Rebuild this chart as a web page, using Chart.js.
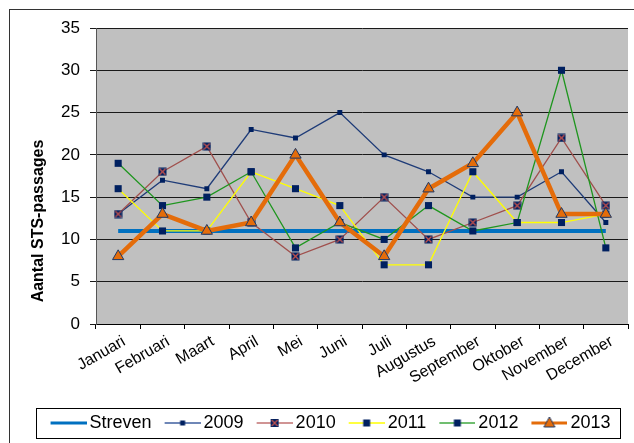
<!DOCTYPE html>
<html>
<head>
<meta charset="utf-8">
<script src="https://cdn.jsdelivr.net/npm/chart.js@4.4.1/dist/chart.umd.min.js"></script>
<style>
  html, body { margin: 0; padding: 0; background: #fff; overflow: hidden; }
  #wrap { position: relative; width: 634px; height: 443px; overflow: hidden; }
  #wrap canvas { position: absolute; left: 0; top: 0; }
</style>
</head>
<body>
<div id="wrap"><canvas id="chart" width="655" height="443"></canvas></div>
<script>
const months = ["Januari", "Februari", "Maart", "April", "Mei", "Juni", "Juli",
  "Augustus", "September", "Oktober", "November", "December"];
const streven = [11, 11, 11, 11, 11, 11, 11, 11, 11, 11, 11, 11];
const y2009 = [13, 17, 16, 23, 22, 25, 20, 18, 15, 15, 18, 12];
const y2010 = [13, 18, 21, 12, 8, 10, 15, 10, 12, 14, 22, 14];
const y2011 = [16, 11, 11, 18, 16, 14, 7, 7, 18, 12, 12, 13];
const y2012 = [19, 14, 15, 18, 9, 12, 10, 14, 11, 12, 30, 9];
const y2013 = [8, 13, 11, 12, 20, 12, 8, 16, 19, 25, 13, 13];
const yTitle = "Aantal STS-passages";

const NAVY = "#002060";
const FONT = "'Liberation Sans', Arial, sans-serif";
Chart.defaults.font.family = FONT;

// little marker helpers, used for the plot and the legend icons
function square(g, x, y, s) {
  g.fillStyle = NAVY;
  g.fillRect(x - s / 2, y - s / 2, s, s);
}
function crossBox(g, x, y) {
  g.fillStyle = NAVY;
  g.fillRect(x - 4, y - 4, 8, 8);
  g.strokeStyle = "#c0504d";
  g.lineWidth = 1.4;
  g.beginPath();
  g.moveTo(x - 3, y - 3); g.lineTo(x + 3, y + 3);
  g.moveTo(x + 3, y - 3); g.lineTo(x - 3, y + 3);
  g.stroke();
}
function tri(g, x, y) {
  g.fillStyle = "#e46c0a";
  g.strokeStyle = "#1f3864";
  g.lineWidth = 1;
  g.beginPath();
  g.moveTo(x, y - 6); g.lineTo(x + 5.5, y + 4); g.lineTo(x - 5.5, y + 4);
  g.closePath();
  g.fill(); g.stroke();
}

const crossImg = document.createElement("canvas");
crossImg.width = 9; crossImg.height = 9;
crossBox(crossImg.getContext("2d"), 4.5, 4.5);

function legendIcon(color, width, marker) {
  const c = document.createElement("canvas");
  c.width = 48; c.height = 16;
  const g = c.getContext("2d");
  g.strokeStyle = color;
  g.lineWidth = width;
  g.beginPath(); g.moveTo(12, 8); g.lineTo(48, 8); g.stroke();
  if (marker) marker(g, 30, 8);
  return c;
}

const datasets = [
  { label: "Streven", data: streven, borderColor: "#0070c0", borderWidth: 4,
    pointRadius: 0, order: 6,
    icon: legendIcon("#0070c0", 3, null) },
  { label: "2009", data: y2009, borderColor: "#1f3c78", borderWidth: 1.3,
    pointStyle: "rect", pointRadius: 3.5, pointBackgroundColor: NAVY, pointBorderColor: NAVY, pointBorderWidth: 0, order: 5,
    icon: legendIcon("#3f5f9f", 1.3, (g, x, y) => square(g, x, y, 5)) },
  { label: "2010", data: y2010, borderColor: "#a0504d", borderWidth: 1.3,
    pointStyle: crossImg, order: 4,
    icon: legendIcon("#c07070", 1.3, crossBox) },
  { label: "2011", data: y2011, borderColor: "#ffff00", borderWidth: 1.3,
    pointStyle: "rect", pointRadius: 5, pointBackgroundColor: NAVY, pointBorderColor: NAVY, pointBorderWidth: 0, order: 3,
    icon: legendIcon("#ffff00", 1.5, (g, x, y) => square(g, x, y, 7)) },
  { label: "2012", data: y2012, borderColor: "#1e961e", borderWidth: 1.3,
    pointStyle: "rect", pointRadius: 5, pointBackgroundColor: NAVY, pointBorderColor: NAVY, pointBorderWidth: 0, order: 2,
    icon: legendIcon("#40a840", 1.5, (g, x, y) => square(g, x, y, 7)) },
  { label: "2013", data: y2013, borderColor: "#e46c0a", borderWidth: 4.5,
    pointStyle: "triangle", pointRadius: 6.5, pointBackgroundColor: "#e46c0a", pointBorderColor: "#1f3864", pointBorderWidth: 1, order: 1,
    icon: legendIcon("#e46c0a", 3, tri) }
];
datasets.forEach(d => { d.tension = 0; d.fill = false; d.pointHoverRadius = d.pointRadius; });

const frame = {
  id: "frame",
  beforeDraw(chart) {
    const { ctx, chartArea: a } = chart;
    ctx.save();
    ctx.strokeStyle = "#333";
    ctx.lineWidth = 1;
    ctx.strokeRect(9.5, 9.5, 800, 600);
    ctx.fillStyle = "#c0c0c0";
    ctx.fillRect(a.left, a.top, a.right - a.left, a.bottom - a.top);
    ctx.restore();
  },
  afterDraw(chart) {
    const ctx = chart.ctx;
    const boxes = chart.legend.legendHitBoxes;
    ctx.save();
    if (boxes && boxes.length) {
      const first = boxes[0], last = boxes[boxes.length - 1];
      const mid = first.top + 9;
      ctx.strokeStyle = "#000";
      ctx.lineWidth = 1;
      ctx.strokeRect(Math.round(first.left - 9) + 0.5, Math.round(mid - 15) + 0.5,
        Math.round(last.left + last.width - first.left + 18), 30);
    }
    ctx.translate(39, 221);
    ctx.rotate(-Math.PI / 2);
    ctx.font = "bold 16px " + FONT;
    ctx.fillStyle = "#000";
    ctx.textAlign = "center";
    ctx.textBaseline = "middle";
    ctx.fillText(yTitle, 0, 0);
    ctx.restore();
  }
};

new Chart(document.getElementById("chart").getContext("2d"), {
  type: "line",
  data: { labels: months, datasets: datasets },
  options: {
    responsive: false,
    animation: false,
    devicePixelRatio: 1,
    layout: { padding: { left: 27, right: 27, top: 28, bottom: 1 } },
    plugins: {
      legend: {
        position: "bottom",
        labels: {
          usePointStyle: true,
          pointStyleWidth: 36,
          padding: 7,
          color: "#000",
          font: { size: 18 },
          generateLabels: (chart) => chart.data.datasets.map((d, i) => ({
            text: d.label,
            pointStyle: d.icon,
            fillStyle: d.borderColor,
            strokeStyle: d.borderColor,
            lineWidth: 0,
            fontColor: "#000",
            hidden: false,
            datasetIndex: i
          }))
        }
      },
      tooltip: { enabled: false }
    },
    scales: {
      x: {
        offset: true,
        grid: { offset: true, drawOnChartArea: false, tickLength: 5, color: "#000" },
        border: { color: "#000" },
        ticks: { autoSkip: false, minRotation: 30, maxRotation: 30, padding: 3, labelOffset: 6, color: "#000", font: { size: 16 } },
        afterFit: (s) => { s.height = 83; }
      },
      y: {
        min: 0,
        max: 35,
        ticks: { stepSize: 5, padding: 10, color: "#000", font: { size: 17 } },
        grid: { color: "#1a1a1a", tickLength: 6 },
        border: { color: "#555" },
        afterFit: (s) => { s.width = 69; }
      }
    }
  },
  plugins: [frame]
});
</script>
</body>
</html>
